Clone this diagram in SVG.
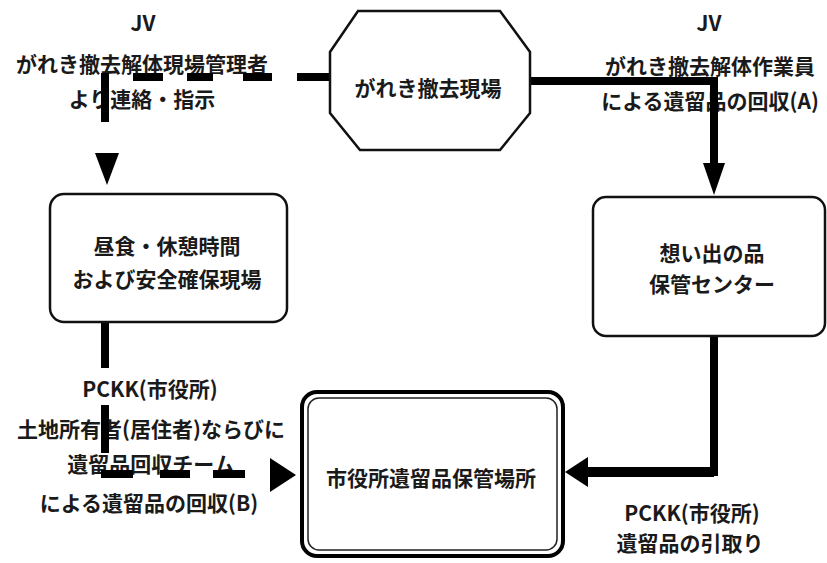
<svg xmlns="http://www.w3.org/2000/svg" width="827" height="563" viewBox="0 0 827 563">
<defs>
<style>
text{font-family:"Noto Sans CJK JP","Noto Sans",sans-serif;font-size:21px;fill:#1a1a1a;text-anchor:middle;dominant-baseline:central;font-weight:bold}
.box{fill:#fff;stroke:#111;stroke-width:2.5}
.thick{stroke:#000;stroke-width:8;fill:none}
.ah{fill:#000}
</style>
</defs>
<rect width="827" height="563" fill="#fff"/>
<g id="labels">
<text x="143" y="22" font-size="22">JV</text>
<text x="142" y="63">がれき撤去解体現場管理者</text>
<text x="142" y="98">より連絡・指示</text>
<text x="709" y="22" font-size="22">JV</text>
<text x="710" y="65">がれき撤去解体作業員</text>
<text x="710" y="100">による遺留品の回収(A)</text>
<text x="150" y="388">PCKK(市役所)</text>
<text x="151" y="428">土地所有者(居住者)ならびに</text>
<text x="151" y="463">遺留品回収チーム</text>
<text x="149" y="502">による遺留品の回収(B)</text>
<text x="692" y="512">PCKK(市役所)</text>
<text x="690" y="542">遺留品の引取り</text>
</g>
<g id="connectors">
<path class="thick" d="M297 77H330M243 77H272M187 77H213M133 77H163M105 73V122"/>
<polygon class="ah" points="95,153 119,153 107,185"/>
<path class="thick" d="M105 322V368M105 405V453M101 474H133M160 474H190M213 474H245"/>
<polygon class="ah" points="270,458 270,492 296,475"/>
<path class="thick" d="M530 81H714V165"/>
<polygon class="ah" points="703,163 725,163 714,195"/>
<path class="thick" d="M714 336V472H585" stroke-width="7"/>
<path d="M585 472H714" stroke="#000" stroke-width="10"/>
<polygon class="ah" points="588,457 588,487 565,472"/>
</g>
<g id="site">
<polygon class="box" points="358,11 500,11 530,52 530,113 500,150 360,150 330,113 330,52"/>
<text x="428" y="87">がれき撤去現場</text>
</g>
<g id="rest">
<rect class="box" x="50" y="194" width="237" height="128" rx="14"/>
<text x="167" y="245">昼食・休憩時間</text>
<text x="167" y="278">および安全確保現場</text>
</g>
<g id="center">
<rect class="box" x="593" y="197" width="232" height="139" rx="13"/>
<text x="712" y="252">想い出の品</text>
<text x="712" y="283">保管センター</text>
</g>
<g id="cityhall">
<rect x="302" y="392" width="261" height="164" rx="15" fill="#fff" stroke="#000" stroke-width="4"/>
<rect x="308" y="398" width="249" height="152" rx="11" fill="none" stroke="#222" stroke-width="1.5"/>
<text x="431" y="477">市役所遺留品保管場所</text>
</g>
</svg>
